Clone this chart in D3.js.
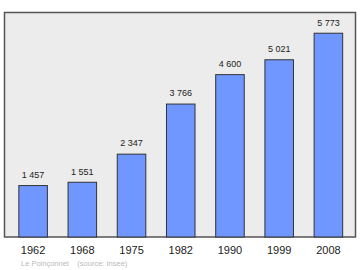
<!DOCTYPE html>
<html>
<head>
<meta charset="utf-8">
<script src="https://cdn.jsdelivr.net/npm/d3@7"></script>
<style>
  body { margin: 0; background: #fff; }
  svg { display: block; }
</style>
</head>
<body>
<div id="chart"></div>
<script>
// population per census year
const years = ["1962", "1968", "1975", "1982", "1990", "1999", "2008"];
const population = [1457, 1551, 2347, 3766, 4600, 5021, 5773];
const sourceNote = "Le Poinçonnet    (source: Insee)";

const width = 360, height = 270;
const frame = { left: 4.5, top: 12.5, right: 355.5, bottom: 237 };
const font = "Liberation Sans, Arial, sans-serif";

const svg = d3.select("#chart")
    .append("svg")
    .attr("width", width)
    .attr("height", height);

// plot background
svg.append("rect")
    .attr("x", frame.left)
    .attr("y", frame.top)
    .attr("width", frame.right - frame.left)
    .attr("height", frame.bottom - frame.top)
    .attr("fill", "#ececec")
    .attr("stroke", "#555")
    .attr("stroke-width", 1.5);

const x = d3.scaleBand()
    .domain(years)
    .range([8.5, 353])
    .paddingInner(0.42)
    .paddingOuter(0.21);

const y = d3.scaleLinear()
    .domain([0, 6360])
    .range([frame.bottom, frame.top]);

const data = years.map((yr, i) => ({ year: yr, value: population[i] }));

svg.selectAll("rect.bar")
    .data(data)
    .enter()
    .append("rect")
    .attr("class", "bar")
    .attr("x", d => x(d.year))
    .attr("y", d => y(d.value))
    .attr("width", x.bandwidth())
    .attr("height", d => frame.bottom - y(d.value))
    .attr("fill", "#7096ff")
    .attr("stroke", "#333")
    .attr("stroke-width", 1);

// value labels, thousands split by a space
const fmt = v => d3.format(",")(v).replace(",", " ");

svg.selectAll("text.val")
    .data(data)
    .enter()
    .append("text")
    .attr("class", "val")
    .attr("x", d => x(d.year) + x.bandwidth() / 2)
    .attr("y", d => y(d.value) - 7.7)
    .attr("text-anchor", "middle")
    .attr("font-family", font)
    .attr("font-size", "9px")
    .attr("fill", "#222")
    .text(d => fmt(d.value));

// year axis, no line or ticks
const axis = svg.append("g")
    .attr("transform", `translate(0, ${frame.bottom})`)
    .call(d3.axisBottom(x).tickSize(0).tickPadding(0));
axis.select(".domain").remove();
axis.selectAll("text")
    .attr("dy", null)
    .attr("y", 17)
    .attr("font-family", font)
    .attr("font-size", "11px")
    .attr("fill", "#222");

svg.append("text")
    .attr("x", 21)
    .attr("y", 266)
    .attr("font-family", font)
    .attr("font-size", "7.5px")
    .attr("fill", "#bbb")
    .style("white-space", "pre")
    .text(sourceNote);
</script>
</body>
</html>
